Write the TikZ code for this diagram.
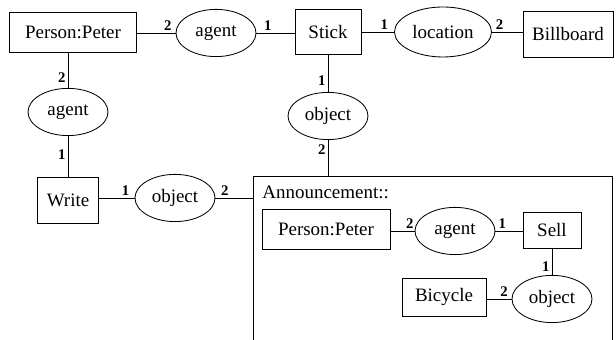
\documentclass[tikz,border=0pt]{standalone}
\usepackage{fontspec}
\setmainfont{Liberation Serif}
\usetikzlibrary{shapes.geometric}
\begin{document}
\begin{tikzpicture}[scale=1.0, line width=0.6pt,
  concept/.style={draw, rectangle, inner sep=2pt, font=\fontsize{13.5}{16}\selectfont},
  relation/.style={draw, ellipse, inner sep=0pt, minimum width=2.0cm, minimum height=1.18cm, font=\fontsize{13.5}{16}\selectfont},
  num/.style={font=\fontsize{10.5}{12}\selectfont\bfseries, inner sep=1.5pt}]
\useasboundingbox (0,0) rectangle (15.4,8.5);

\node[concept, minimum width=3.175cm, minimum height=1.0cm] (pp1) at (1.825,7.7) {Person:Peter};
\node[relation] (ag1) at (5.4,7.675) {agent};
\node[concept, minimum width=1.65cm, minimum height=1.125cm] (stick) at (8.2,7.7) {Stick};
\node[relation, minimum width=2.425cm, minimum height=1.25cm] (loc) at (11.075,7.7) {location};
\node[concept, minimum width=2.25cm, minimum height=1.15cm] (bill) at (14.2,7.65) {Billboard};
\node[relation] (ob1) at (8.2,5.6) {object};
\node[relation] (ag2) at (1.7,5.7) {agent};
\node[concept, minimum width=1.525cm, minimum height=1.15cm] (write) at (1.7,3.5) {Write};
\node[relation] (ob2) at (4.375,3.55) {object};

\node[draw, rectangle, minimum width=8.975cm, minimum height=4.3cm, anchor=north west] (ann) at (6.325,4.1) {};
\node[anchor=west, inner sep=0pt, font=\fontsize{13.5}{16}\selectfont] (annlbl) at (6.55,3.7) {Announcement::};
\node[concept, minimum width=3.2cm, minimum height=1.0cm] (pp2) at (8.15,2.775) {Person:Peter};
\node[relation] (ag3) at (11.375,2.725) {agent};
\node[concept, minimum width=1.45cm, minimum height=0.9cm] (sell) at (13.8,2.75) {Sell};
\node[relation] (ob3) at (13.8,1.025) {object};
\node[concept, minimum width=2.1cm, minimum height=0.95cm] (bike) at (11.1,1.075) {Bicycle};

\draw (pp1.east |- ag1) -- node[num, pos=0.8, above] {2} (ag1.west);
\draw (ag1.east) -- node[num, pos=0.3, above] {1} (stick.west |- ag1);
\draw (stick.east) -- node[num, pos=0.7, above] {1} (loc.west);
\draw (loc.east) -- node[num, pos=0.25, above] {2} (bill.west |- loc);
\draw (stick.south) -- node[num, pos=0.7, left] {1} (ob1.north);
\draw (ob1.south) -- node[num, pos=0.28, left] {2} (ob1 |- ann.north);
\draw (ag2 |- pp1.south) -- node[num, pos=0.7, left] {2} (ag2.north);
\draw (ag2.south) -- node[num, pos=0.45, left] {1} (write.north);
\draw (write.east |- ob2) -- node[num, pos=0.75, above] {1} (ob2.west);
\draw (ob2.east) -- node[num, pos=0.25, above] {2} (ob2 -| ann.west);

\draw (pp2.east |- ag3) -- node[num, pos=0.8, above] {2} (ag3.west);
\draw (ag3.east) -- node[num, pos=0.25, above] {1} (sell.west |- ag3);
\draw (sell.south) -- node[num, pos=0.7, left] {1} (ob3.north);
\draw (bike.east |- ob3) -- node[num, pos=0.7, above] {2} (ob3.west);
\end{tikzpicture}
\end{document}
